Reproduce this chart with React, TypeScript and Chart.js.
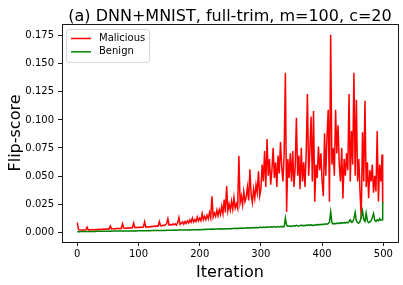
import React, { useEffect, useRef } from "react";
import { Chart, registerables } from "chart.js";

Chart.register(...registerables);

const FONT = '"DejaVu Sans", "Liberation Sans", sans-serif';
const TITLE = "(a) DNN+MNIST, full-trim, m=100, c=20";
const X_LABEL = "Iteration";
const Y_LABEL = "Flip-score";
const SERIES_NAMES = ["Malicious", "Benign"];
const SERIES_COLORS = ["#ff0000", "#008000"];
const X_TICKS = [0, 100, 200, 300, 400, 500];
const Y_TICKS = [0, 0.025, 0.05, 0.075, 0.1, 0.125, 0.15, 0.175];

// iterations sampled every 2 steps, plus the final iteration
const ITERATIONS = Array.from({ length: 250 }, (_, i) => i * 2).concat([499]);

const MALICIOUS = [
  0.0085, 0.0021, 0.0018, 0.0019, 0.0018,
  0.0020, 0.0019, 0.0021, 0.0045, 0.0020,
  0.0021, 0.0020, 0.0023, 0.0021, 0.0022,
  0.0024, 0.0022, 0.0025, 0.0023, 0.0026,
  0.0024, 0.0027, 0.0025, 0.0028, 0.0026,
  0.0029, 0.0027, 0.0055, 0.0029, 0.0030,
  0.0031, 0.0029, 0.0034, 0.0032, 0.0030,
  0.0035, 0.0033, 0.0076, 0.0036, 0.0034,
  0.0037, 0.0035, 0.0039, 0.0036, 0.0041,
  0.0038, 0.0082, 0.0040, 0.0043, 0.0039,
  0.0044, 0.0041, 0.0046, 0.0042, 0.0047,
  0.0092, 0.0045, 0.0048, 0.0044, 0.0050,
  0.0047, 0.0052, 0.0049, 0.0056, 0.0050,
  0.0057, 0.0053, 0.0095, 0.0058, 0.0055,
  0.0062, 0.0058, 0.0066, 0.0076, 0.0120,
  0.0062, 0.0067, 0.0063, 0.0073, 0.0066,
  0.0075, 0.0062, 0.0083, 0.0130, 0.0068,
  0.0079, 0.0092, 0.0070, 0.0095, 0.0078,
  0.0100, 0.0082, 0.0110, 0.0088, 0.0125,
  0.0090, 0.0112, 0.0094, 0.0135, 0.0100,
  0.0125, 0.0102, 0.0165, 0.0110, 0.0140,
  0.0112, 0.0150, 0.0118, 0.0175, 0.0128,
  0.0320, 0.0135, 0.0170, 0.0140, 0.0195,
  0.0145, 0.0200, 0.0158, 0.0230, 0.0165,
  0.0290, 0.0175, 0.0410, 0.0190, 0.0250,
  0.0195, 0.0275, 0.0205, 0.0310, 0.0215,
  0.0252, 0.0212, 0.0680, 0.0262, 0.0322,
  0.0243, 0.0362, 0.0272, 0.0312, 0.0402,
  0.0283, 0.0560, 0.0332, 0.0262, 0.0382,
  0.0302, 0.0422, 0.0352, 0.0542, 0.0322,
  0.0382, 0.0602, 0.0452, 0.0722, 0.0402,
  0.0830, 0.0502, 0.0652, 0.0422, 0.0552,
  0.0752, 0.0482, 0.0622, 0.0402, 0.0682,
  0.0522, 0.0802, 0.0582, 0.0452, 0.0702,
  0.1420, 0.0180, 0.0652, 0.0482, 0.0702,
  0.0452, 0.0722, 0.0402, 0.0582, 0.1020,
  0.0502, 0.0682, 0.0382, 0.0752, 0.0452,
  0.0622, 0.0402, 0.0702, 0.1230, 0.0502,
  0.0722, 0.1030, 0.0452, 0.1080, 0.0270,
  0.0602, 0.0482, 0.0762, 0.0552, 0.0702,
  0.0452, 0.0320, 0.0880, 0.0502, 0.0852,
  0.1090, 0.0270, 0.1760, 0.0602, 0.0752,
  0.0502, 0.1090, 0.0702, 0.0952, 0.0602,
  0.0452, 0.0752, 0.0300, 0.0652, 0.0502,
  0.0702, 0.0552, 0.1230, 0.0452, 0.0902,
  0.0602, 0.1420, 0.0502, 0.1180, 0.0452,
  0.0652, 0.0352, 0.0120, 0.0890, 0.0452,
  0.1170, 0.0402, 0.0622, 0.0302, 0.0552,
  0.0452, 0.0602, 0.0352, 0.0502, 0.0362,
  0.0902, 0.0272, 0.0602, 0.0452, 0.0692,
  0.0262,
];

const BENIGN = [
  0.0004, 0.0004, 0.0004, 0.0005, 0.0005,
  0.0005, 0.0005, 0.0005, 0.0005, 0.0006,
  0.0006, 0.0006, 0.0006, 0.0006, 0.0006,
  0.0006, 0.0007, 0.0007, 0.0007, 0.0007,
  0.0007, 0.0007, 0.0008, 0.0008, 0.0008,
  0.0008, 0.0008, 0.0009, 0.0008, 0.0009,
  0.0009, 0.0009, 0.0009, 0.0010, 0.0009,
  0.0010, 0.0010, 0.0010, 0.0010, 0.0010,
  0.0011, 0.0010, 0.0011, 0.0011, 0.0011,
  0.0011, 0.0011, 0.0012, 0.0011, 0.0012,
  0.0012, 0.0012, 0.0012, 0.0013, 0.0012,
  0.0013, 0.0013, 0.0013, 0.0013, 0.0014,
  0.0013, 0.0014, 0.0014, 0.0014, 0.0014,
  0.0015, 0.0014, 0.0015, 0.0015, 0.0015,
  0.0015, 0.0016, 0.0015, 0.0016, 0.0016,
  0.0016, 0.0017, 0.0016, 0.0017, 0.0017,
  0.0018, 0.0017, 0.0018, 0.0018, 0.0019,
  0.0018, 0.0019, 0.0019, 0.0020, 0.0019,
  0.0020, 0.0020, 0.0021, 0.0020, 0.0021,
  0.0021, 0.0022, 0.0021, 0.0022, 0.0022,
  0.0023, 0.0022, 0.0024, 0.0023, 0.0025,
  0.0024, 0.0025, 0.0026, 0.0025, 0.0027,
  0.0026, 0.0027, 0.0026, 0.0028, 0.0027,
  0.0028, 0.0029, 0.0028, 0.0030, 0.0029,
  0.0030, 0.0029, 0.0031, 0.0030, 0.0031,
  0.0032, 0.0031, 0.0033, 0.0032, 0.0034,
  0.0033, 0.0035, 0.0033, 0.0036, 0.0034,
  0.0036, 0.0035, 0.0037, 0.0036, 0.0038,
  0.0037, 0.0039, 0.0037, 0.0040, 0.0038,
  0.0041, 0.0039, 0.0042, 0.0040, 0.0043,
  0.0043, 0.0040, 0.0046, 0.0041, 0.0044,
  0.0047, 0.0042, 0.0045, 0.0048, 0.0043,
  0.0046, 0.0049, 0.0044, 0.0047, 0.0050,
  0.0045, 0.0048, 0.0051, 0.0046, 0.0049,
  0.0125, 0.0062, 0.0052, 0.0057, 0.0050,
  0.0055, 0.0052, 0.0058, 0.0054, 0.0060,
  0.0056, 0.0052, 0.0058, 0.0062, 0.0055,
  0.0060, 0.0057, 0.0063, 0.0059, 0.0065,
  0.0060, 0.0066, 0.0058, 0.0064, 0.0061,
  0.0067, 0.0063, 0.0069, 0.0065, 0.0070,
  0.0066, 0.0072, 0.0068, 0.0074, 0.0070,
  0.0076, 0.0090, 0.0180, 0.0085, 0.0072,
  0.0078, 0.0074, 0.0080, 0.0076, 0.0082,
  0.0077, 0.0084, 0.0079, 0.0086, 0.0080,
  0.0088, 0.0083, 0.0095, 0.0110, 0.0088,
  0.0092, 0.0120, 0.0175, 0.0100, 0.0085,
  0.0080, 0.0095, 0.0140, 0.0190, 0.0110,
  0.0095, 0.0170, 0.0100, 0.0085, 0.0090,
  0.0100, 0.0130, 0.0165, 0.0105, 0.0095,
  0.0110, 0.0100, 0.0120, 0.0105, 0.0110,
  0.0270,
];

const SERIES = [MALICIOUS, BENIGN];

const decoPlugin = {
  id: "deco",
  afterDraw(chart: any) {
    const { ctx, chartArea: a } = chart;
    ctx.save();
    // frame (all four spines)
    ctx.strokeStyle = "#000";
    ctx.lineWidth = 0.9;
    ctx.strokeRect(
      Math.round(a.left) + 0.5,
      Math.round(a.top) + 0.5,
      Math.round(a.right) - Math.round(a.left),
      Math.round(a.bottom) - Math.round(a.top)
    );
    const cx = (a.left + a.right) / 2;
    const cy = (a.top + a.bottom) / 2;
    ctx.fillStyle = "#000";
    ctx.font = `16px ${FONT}`;
    ctx.textAlign = "center";
    ctx.textBaseline = "alphabetic";
    ctx.fillText(TITLE, cx, 20.6);
    ctx.fillText(X_LABEL, cx, 276.5);
    ctx.save();
    ctx.translate(20, cy);
    ctx.rotate(-Math.PI / 2);
    ctx.fillText(Y_LABEL, 0, 0);
    ctx.restore();

    // legend
    const lx = a.left + 4.5;
    const ly = a.top + 5.5;
    const lw = 83;
    const lh = 33;
    const r = 2.5;
    ctx.beginPath();
    ctx.moveTo(lx + r, ly);
    ctx.lineTo(lx + lw - r, ly);
    ctx.arcTo(lx + lw, ly, lx + lw, ly + r, r);
    ctx.lineTo(lx + lw, ly + lh - r);
    ctx.arcTo(lx + lw, ly + lh, lx + lw - r, ly + lh, r);
    ctx.lineTo(lx + r, ly + lh);
    ctx.arcTo(lx, ly + lh, lx, ly + lh - r, r);
    ctx.lineTo(lx, ly + r);
    ctx.arcTo(lx, ly, lx + r, ly, r);
    ctx.closePath();
    ctx.fillStyle = "rgba(255,255,255,0.8)";
    ctx.fill();
    ctx.strokeStyle = "rgba(204,204,204,0.8)";
    ctx.lineWidth = 1;
    ctx.stroke();

    ctx.font = `10px ${FONT}`;
    ctx.textAlign = "left";
    ctx.textBaseline = "middle";
    SERIES_NAMES.forEach((name, i) => {
      const y = ly + 9 + i * 13.3;
      ctx.strokeStyle = SERIES_COLORS[i];
      ctx.lineWidth = 1.5;
      ctx.beginPath();
      ctx.moveTo(lx + 4.5, y);
      ctx.lineTo(lx + 24.5, y);
      ctx.stroke();
      ctx.fillStyle = "#000";
      ctx.fillText(name, lx + 32.5, y);
    });
    ctx.restore();
  },
};

export default function App() {
  const canvasRef = useRef<HTMLCanvasElement | null>(null);

  useEffect(() => {
    document.body.style.margin = "0";
    const canvas = canvasRef.current;
    if (!canvas) return;
    const chart = new Chart(canvas, {
      type: "line",
      data: {
        datasets: SERIES.map((vals, i) => ({
          label: SERIES_NAMES[i],
          data: vals.map((v, j) => ({ x: ITERATIONS[j], y: v })),
          borderColor: SERIES_COLORS[i],
          backgroundColor: SERIES_COLORS[i],
          borderWidth: 1.5,
          pointRadius: 0,
          tension: 0,
          fill: false,
          order: i === 0 ? 2 : 1,
        })),
      },
      options: {
        animation: false,
        responsive: false,
        maintainAspectRatio: false,
        devicePixelRatio: 1,
        layout: { padding: { top: 24, right: 5, left: 0, bottom: 0 } },
        plugins: {
          legend: { display: false },
          title: { display: false },
          tooltip: { enabled: false },
        },
        scales: {
          x: {
            type: "linear",
            min: -25,
            max: 524,
            afterBuildTicks: (s: any) => {
              s.ticks = X_TICKS.map((v) => ({ value: v }));
            },
            afterFit: (s: any) => {
              s.height = 43;
            },
            ticks: {
              font: { family: FONT, size: 10 },
              color: "#000",
              padding: 2,
              maxRotation: 0,
              autoSkip: false,
              callback: (v: any) => String(v),
            },
            grid: {
              drawOnChartArea: false,
              drawTicks: true,
              tickLength: 4,
              color: "#000",
              tickWidth: 0.9,
            },
            border: { display: false },
          },
          y: {
            type: "linear",
            min: -0.0088,
            max: 0.1855,
            afterBuildTicks: (s: any) => {
              s.ticks = Y_TICKS.map((v) => ({ value: v }));
            },
            afterFit: (s: any) => {
              s.width = 62;
            },
            ticks: {
              font: { family: FONT, size: 10 },
              color: "#000",
              padding: 4,
              autoSkip: false,
              callback: (v: any) => Number(v).toFixed(3),
            },
            grid: {
              drawOnChartArea: false,
              drawTicks: true,
              tickLength: 4,
              color: "#000",
              tickWidth: 0.9,
            },
            border: { display: false },
          },
        },
      },
      plugins: [decoPlugin],
    });
    return () => chart.destroy();
  }, []);

  return (
    <div style={{ width: 403, height: 285 }}>
      <canvas ref={canvasRef} width={403} height={285} style={{ display: "block" }} />
    </div>
  );
}
